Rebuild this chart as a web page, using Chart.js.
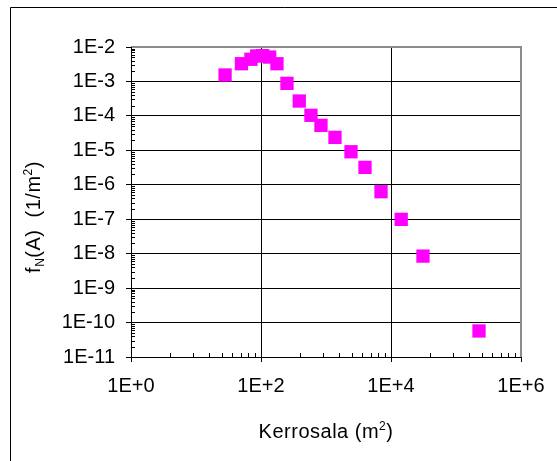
<!DOCTYPE html>
<html><head><meta charset="utf-8">
<script src="https://cdn.jsdelivr.net/npm/chart.js@4/dist/chart.umd.min.js"></script>
<style>html,body{margin:0;padding:0;background:#fff}</style>
</head><body>
<canvas id="c" width="557" height="461" style="width:557px;height:461px;display:block"></canvas>
<script>
// Data
const areaValues = [28, 50, 70, 86, 106, 136, 176, 251, 388, 587, 837, 1375, 2425, 3980, 7020, 14350, 31050, 226000];
const densityValues = [1.54e-3, 3.27e-3, 4.4e-3, 5.5e-3, 5.6e-3, 5.1e-3, 3.27e-3, 8.8e-4, 2.7e-4, 1.04e-4, 5.3e-5, 2.38e-5, 9.1e-6, 3.2e-6, 6.3e-7, 9.9e-8, 8.5e-9, 5.7e-11];
const xTickValues = [1, 1e2, 1e4, 1e6];
const xTickLabels = ["1E+0", "1E+2", "1E+4", "1E+6"];
const yTickValues = [1e-11, 1e-10, 1e-9, 1e-8, 1e-7, 1e-6, 1e-5, 1e-4, 1e-3, 1e-2];
const yTickLabels = ["1E-11", "1E-10", "1E-9", "1E-8", "1E-7", "1E-6", "1E-5", "1E-4", "1E-3", "1E-2"];
const xTitleMain = "Kerrosala (m";
const xTitleSup = "2";
const xTitleEnd = ")";
const yTitleF = "f";
const yTitleSub = "N";
const yTitleMid = "(A)  (1/m";
const yTitleSup = "2";
const yTitleEnd = ")";

const FONT = '"Liberation Sans", Arial, sans-serif';
const points = areaValues.map((a, i) => ({x: a, y: densityValues[i]}));

function near(a, b) { return Math.abs(Math.log10(a) - Math.log10(b)) < 1e-6; }
function labelFor(values, labels, v) {
  for (let i = 0; i < values.length; i++) if (near(values[i], v)) return labels[i];
  return '';
}

const decor = {
  id: 'decor',
  beforeDraw(chart) {
    const ctx = chart.ctx;
    ctx.save();
    ctx.fillStyle = '#fff';
    ctx.fillRect(0, 0, chart.width, chart.height);
    ctx.strokeStyle = '#000';
    ctx.lineWidth = 1;
    ctx.beginPath();
    ctx.moveTo(10.5, chart.height + 5);
    ctx.lineTo(10.5, 7.5);
    ctx.lineTo(chart.width + 5, 7.5);
    ctx.stroke();
    ctx.restore();
  },
  beforeDatasetsDraw(chart) {
    const ctx = chart.ctx;
    const a = chart.chartArea;
    const xs = chart.scales.x, ys = chart.scales.y;
    ctx.save();
    ctx.strokeStyle = '#8c8c8c';
    ctx.lineWidth = 2;
    ctx.beginPath();
    ctx.moveTo(a.left, a.top);
    ctx.lineTo(a.right, a.top);
    ctx.lineTo(a.right, a.bottom);
    ctx.stroke();
    ctx.strokeStyle = '#000';
    ctx.lineWidth = 1;
    ctx.beginPath();
    ctx.moveTo(Math.round(a.left) + 0.5, a.top);
    ctx.lineTo(Math.round(a.left) + 0.5, Math.round(a.bottom) + 0.5);
    ctx.lineTo(a.right, Math.round(a.bottom) + 0.5);
    ctx.stroke();
    ctx.beginPath();
    for (let n = -11; n < -2; n++) {
      for (let k = 2; k <= 9; k++) {
        const py = Math.round(ys.getPixelForValue(k * Math.pow(10, n))) + 0.5;
        ctx.moveTo(Math.round(a.left), py);
        ctx.lineTo(Math.round(a.left) + 4, py);
      }
    }
    for (let n = 0; n < 6; n += 2) {
      for (let k = 2; k <= 9; k++) {
        const px = Math.round(xs.getPixelForValue(k * k * Math.pow(10, n))) + 0.5;
        ctx.moveTo(px, Math.round(a.bottom));
        ctx.lineTo(px, Math.round(a.bottom) - 4);
      }
    }
    ctx.stroke();
    ctx.restore();
  },
  afterDraw(chart) {
    const ctx = chart.ctx;
    const a = chart.chartArea;
    ctx.save();
    ctx.fillStyle = '#000';
    ctx.textBaseline = 'alphabetic';
    try { ctx.letterSpacing = '0.5px'; } catch (e) {}
    const big = '20px ' + FONT, small = '12px ' + FONT;
    ctx.font = big;
    const w1 = ctx.measureText(xTitleMain).width;
    const w3 = ctx.measureText(xTitleEnd).width;
    ctx.font = small;
    const w2 = ctx.measureText(xTitleSup).width;
    let x = (a.left + a.right) / 2 - (w1 + w2 + w3) / 2;
    const by = 438;
    ctx.font = big; ctx.fillText(xTitleMain, x, by); x += w1;
    ctx.font = small; ctx.fillText(xTitleSup, x, by - 8); x += w2;
    ctx.font = big; ctx.fillText(xTitleEnd, x, by);
    ctx.translate(40, 217);
    ctx.rotate(-Math.PI / 2);
    ctx.font = big;
    const f1 = ctx.measureText(yTitleF).width;
    const f3 = ctx.measureText(yTitleMid).width;
    const f5 = ctx.measureText(yTitleEnd).width;
    ctx.font = small;
    const f2 = ctx.measureText(yTitleSub).width;
    const f4 = ctx.measureText(yTitleSup).width;
    let t = -(f1 + f2 + f3 + f4 + f5) / 2;
    ctx.font = big; ctx.fillText(yTitleF, t, 0); t += f1;
    ctx.font = small; ctx.fillText(yTitleSub, t, 4); t += f2;
    ctx.font = big; ctx.fillText(yTitleMid, t, 0); t += f3;
    ctx.font = small; ctx.fillText(yTitleSup, t, -8); t += f4;
    ctx.font = big; ctx.fillText(yTitleEnd, t, 0);
    ctx.restore();
  }
};

new Chart(document.getElementById('c'), {
  type: 'scatter',
  data: {
    datasets: [{
      data: points,
      pointStyle: 'rect',
      pointRadius: 9.4,
      pointHoverRadius: 9.4,
      backgroundColor: '#ff00ff',
      borderColor: '#ff00ff',
      borderWidth: 0
    }]
  },
  options: {
    responsive: false,
    animation: false,
    events: [],
    layout: { padding: { top: 47, right: 36, left: 0, bottom: 0 } },
    plugins: { legend: { display: false }, tooltip: { enabled: false } },
    scales: {
      x: {
        type: 'logarithmic',
        min: 1, max: 1e6,
        afterBuildTicks: s => { s.ticks = xTickValues.map(v => ({ value: v })); },
        afterFit: s => { s.height = 104; },
        ticks: {
          color: '#000',
          font: { family: FONT, size: 20 },
          padding: 12,
          maxRotation: 0,
          autoSkip: false,
          callback: v => labelFor(xTickValues, xTickLabels, v)
        },
        grid: {
          color: c => (c.tick && near(c.tick.value, 1e6)) ? 'rgba(0,0,0,0)' : '#000',
          tickColor: '#000',
          tickLength: 5,
          lineWidth: 1
        },
        border: { display: false }
      },
      y: {
        type: 'logarithmic',
        min: 1e-11, max: 1e-2,
        afterBuildTicks: s => { s.ticks = yTickValues.map(v => ({ value: v })); },
        afterFit: s => { s.width = 131; },
        ticks: {
          color: '#000',
          font: { family: FONT, size: 20 },
          padding: 11,
          autoSkip: false,
          callback: v => labelFor(yTickValues, yTickLabels, v)
        },
        grid: {
          color: c => (c.tick && near(c.tick.value, 1e-2)) ? 'rgba(0,0,0,0)' : '#000',
          tickColor: '#000',
          tickLength: 5,
          lineWidth: 1
        },
        border: { display: false }
      }
    }
  },
  plugins: [decor]
});
</script>
</body></html>
